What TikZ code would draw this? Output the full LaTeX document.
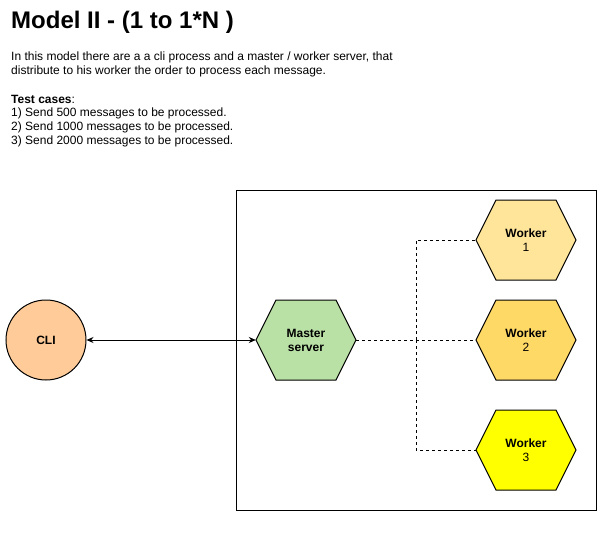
\documentclass[tikz,border=0pt]{standalone}
\usepackage{fontspec}
\setmainfont{Liberation Sans}
\usetikzlibrary{arrows.meta}
\definecolor{cliFill}{HTML}{FFCC99}
\definecolor{masterFill}{HTML}{B9E0A5}
\definecolor{wOne}{HTML}{FFE599}
\definecolor{wTwo}{HTML}{FFD966}
\definecolor{wThree}{HTML}{FFFF00}
\tikzset{
  txt/.style={anchor=base west, inner sep=0pt, font=\fontsize{12}{14}\selectfont},
  hexlabel/.style={minimum width=100pt, minimum height=80pt, inner sep=0pt, align=center, font=\fontsize{12}{14}\selectfont},
  hexshape/.style={draw=black, line width=1pt},
  dashline/.style={line width=1pt, dash pattern=on 3pt off 3pt},
  link/.style={line width=1pt, {Stealth[length=7pt,width=6pt]}-{Stealth[length=7pt,width=6pt]}}
}
\newcommand{\hexat}[3]{% center x, center y, fill
  \fill[#3] (#1-50,#2) -- (#1-30,#2-40) -- (#1+30,#2-40) -- (#1+50,#2) -- (#1+30,#2+40) -- (#1-30,#2+40) -- cycle;
  \draw[hexshape] (#1-50,#2) -- (#1-30,#2-40) -- (#1+30,#2-40) -- (#1+50,#2) -- (#1+30,#2+40) -- (#1-30,#2+40) -- cycle;
}
\begin{document}
\begin{tikzpicture}[x=1pt,y=-1pt]
\useasboundingbox[fill=white] (0,0) rectangle (598,535);
% title and texts
\node[anchor=base west, inner sep=0pt, font=\fontsize{24}{28}\selectfont\bfseries] (title) at (11,29) {Model II - (1 to 1*N )};
\node[txt] (d1) at (11,61) {In this model there are a a cli process and a master / worker server, that};
\node[txt] (d2) at (11,75) {distribute to his worker the order to process each message.};
\node[txt] (t0) at (11,103) {\textbf{Test cases}:};
\node[txt] (t1) at (11,117) {1) Send 500 messages to be processed.};
\node[txt] (t2) at (11,131) {2) Send 1000 messages to be processed.};
\node[txt] (t3) at (11,145) {3) Send 2000 messages to be processed.};
% container
\draw[line width=1pt] (236.5,190.5) rectangle (596.5,510.5);
% CLI
\node[circle, draw=black, line width=1pt, fill=cliFill, minimum size=80pt, inner sep=0pt, font=\fontsize{12}{14}\selectfont\bfseries] (cli) at (46,340) {CLI};
% hexagons
\hexat{306}{340}{masterFill}
\hexat{526}{240}{wOne}
\hexat{526}{340}{wTwo}
\hexat{526}{450}{wThree}
\node[hexlabel] (master) at (306,340) {\textbf{Master}\\\textbf{server}};
\node[hexlabel] (w1) at (526,240) {\textbf{Worker}\\1};
\node[hexlabel] (w2) at (526,340) {\textbf{Worker}\\2};
\node[hexlabel] (w3) at (526,450) {\textbf{Worker}\\3};
% connectors
\draw[link] (cli.east) -- (master.west);
\coordinate (j) at (416,340);
\draw[dashline] (master.east) -- (w2.west);
\draw[dashline] (j) |- (w1.west);
\draw[dashline] (j) |- (w3.west);
\end{tikzpicture}
\end{document}
